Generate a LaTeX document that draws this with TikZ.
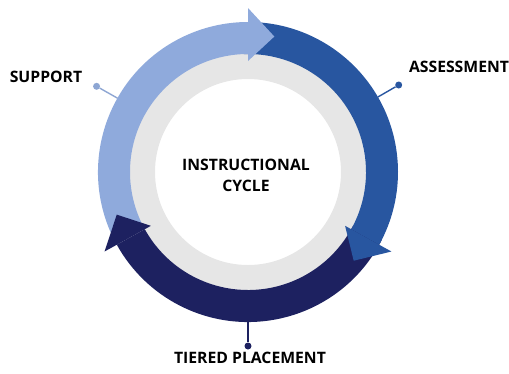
\documentclass[tikz,border=0pt]{standalone}
\usepackage{fontspec}
\setmainfont{Open Sans}
\usetikzlibrary{calc}

\definecolor{supportblue}{HTML}{8FAADC}
\definecolor{assessblue}{HTML}{2856A0}
\definecolor{placenavy}{HTML}{1D2160}
\definecolor{ringgray}{HTML}{E6E6E6}

\tikzset{
	steptext/.style={font=\fontsize{15.8}{21}\selectfont\bfseries, inner sep=0pt},
	leader/.style={line width=1.4bp},
	enddot/.style={circle, inner sep=0pt, minimum size=7bp},
}

\begin{document}
\begin{tikzpicture}[x=1bp, y=1bp]

% parameters %{{{2

	\def\rout{150}
	\def\rin{118}
	\def\rhout{164}
	\def\rhin{111}
	\def\rtip{138}
	\def\headlen{11}
	\def\rdot{174}

	\useasboundingbox (-248,-201) rectangle (261,172);

% coordinates %{{{2

	\coordinate (O) at (0,0);

% gray ring %{{{2

	\fill[ringgray, even odd rule] (O) circle (120) (O) circle (93);

% arrow bodies %{{{2

	% tiered placement
	\fill[placenavy] (-27:\rout) arc[start angle=-27, end angle=-151, radius=\rout]
		-- (-151:\rin) arc[start angle=-151, end angle=-27, radius=\rin] -- cycle;
	% assessment
	\fill[assessblue] (92:\rout) arc[start angle=92, end angle=-29, radius=\rout]
		-- (-29:\rin) arc[start angle=-29, end angle=92, radius=\rin] -- cycle;
	% support
	\fill[supportblue] (207:\rout) arc[start angle=207, end angle=90, radius=\rout]
		-- (90:\rin) arc[start angle=90, end angle=207, radius=\rin] -- cycle;

% arrow heads %{{{2

	\fill[supportblue] (90:\rhout) -- ({90-\headlen}:\rtip) -- (90:\rhin) -- cycle;
	\fill[assessblue] (-29:\rhout) -- ({-29-\headlen}:\rtip) -- (-29:\rhin) -- cycle;
	\fill[placenavy] (-151:\rhout) -- ({-151-\headlen}:\rtip) -- (-151:\rhin) -- cycle;

% labels %{{{2

	\node[steptext, align=center] (cycle) at (-2,-3) {INSTRUCTIONAL\\CYCLE};

	\node[steptext, anchor=base] (support) at (-202,90) {SUPPORT};
	\node[steptext, anchor=base] (assessment) at (211,100) {ASSESSMENT};
	\node[steptext, anchor=base] (placement) at (2,-191) {TIERED PLACEMENT};

% leaders and dots %{{{2

	\coordinate (supportend) at (150.5:\rout);
	\coordinate (assessend) at (30:\rout);
	\coordinate (placeend) at (270:\rout);

	\node[enddot, fill=supportblue!90!gray] (supportdot) at (150.5:\rdot) {};
	\node[enddot, fill=assessblue] (assessdot) at (30:\rdot) {};
	\node[enddot, fill=placenavy] (placedot) at (270:\rdot) {};

	\draw[leader, supportblue!90!gray] (supportend) -- (supportdot);
	\draw[leader, assessblue] (assessend) -- (assessdot);
	\draw[leader, placenavy] (placeend) -- (placedot);

\end{tikzpicture}
\end{document}
